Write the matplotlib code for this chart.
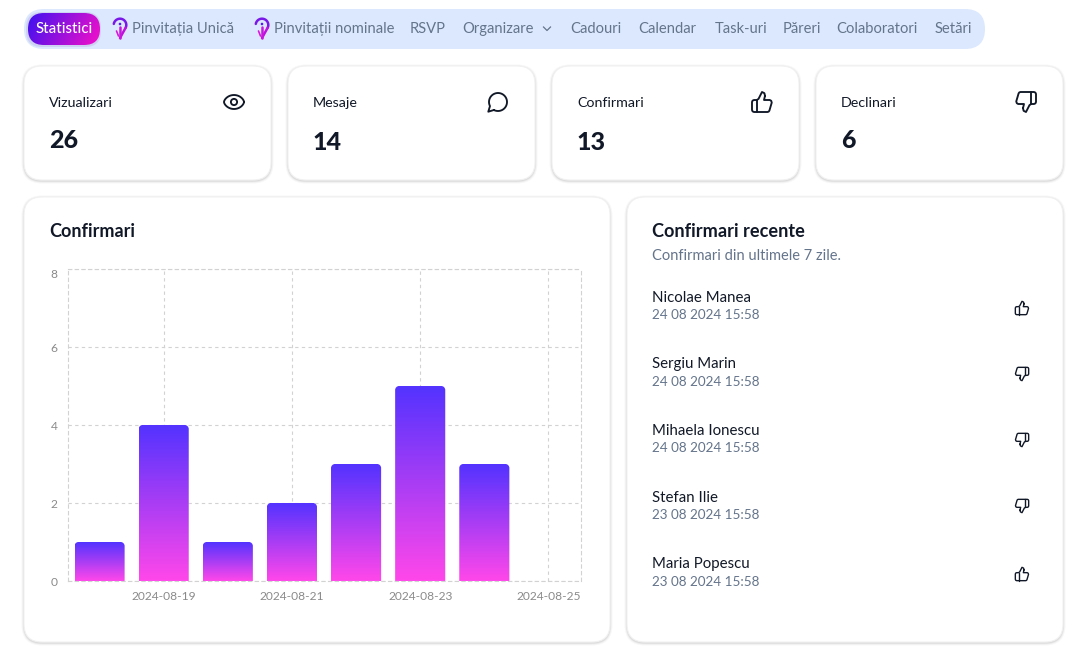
"""Dashboard with stat cards, a gradient bar chart and a list of recent confirmations"""

import numpy as np
import matplotlib
matplotlib.use("Agg")
import matplotlib.pyplot as plt
from matplotlib.colors import LinearSegmentedColormap
from matplotlib.patches import FancyBboxPatch, PathPatch, Circle
from matplotlib.path import Path

plt.rcParams["font.family"] = ["Lato", "DejaVu Sans"]

WIDTH, HEIGHT = 1080, 667

# chart data
dates = ["2024-08-18", "2024-08-19", "2024-08-20", "2024-08-21",
         "2024-08-22", "2024-08-23", "2024-08-24", "2024-08-25"]
confirmations = [1, 4, 1, 2, 3, 5, 3, 0]
y_ticks = [0, 2, 4, 6, 8]

# stat cards
card_titles = ["Vizualizari", "Mesaje", "Confirmari", "Declinari"]
card_values = ["26", "14", "13", "6"]

# navigation
nav_labels = ["Pinvitația Unică", "Pinvitații nominale", "RSVP", "Organizare",
              "Cadouri", "Calendar", "Task-uri", "Păreri", "Colaboratori", "Setări"]
nav_x = [132, 274, 410, 462, 570.5, 638.5, 715, 783, 836.5, 935]

# recent list
names = ["Nicolae Manea", "Sergiu Marin", "Mihaela Ionescu", "Stefan Ilie", "Maria Popescu"]
times = ["24 08 2024 15:58", "24 08 2024 15:58", "24 08 2024 15:58",
         "23 08 2024 15:58", "23 08 2024 15:58"]
answers = ["up", "down", "down", "down", "up"]

DARK = "#111827"
GRAY = "#64748b"


def px(size):
    # css pixels to points
    return size * 0.72


fig = plt.figure(figsize=(WIDTH / 100, HEIGHT / 100), dpi=100, facecolor="white")
bg = fig.add_axes([0, 0, 1, 1])
bg.set_xlim(0, WIDTH)
bg.set_ylim(HEIGHT, 0)
bg.axis("off")


def rounded(x0, y0, x1, y1, r, **kw):
    patch = FancyBboxPatch((x0 + r, y0 + r), x1 - x0 - 2 * r, y1 - y0 - 2 * r,
                           boxstyle=f"round,pad={r},rounding_size={r}", **kw)
    bg.add_patch(patch)
    return patch


def card(x0, y0, x1, y1, r=18):
    # soft shadow built from a few see-through layers, then the white card
    for grow, alpha in [(2.5, 0.10), (1.5, 0.16), (0.7, 0.28)]:
        rounded(x0 - grow, y0 + 1 - grow, x1 + grow, y1 + 1 + grow, r + grow,
                fc="#b8b8b8", ec="none", alpha=alpha)
    rounded(x0, y0, x1, y1, r, fc="white", ec="#f1f1f1", lw=0.8)


def icon(lines, cx, cy, size=24, lw=1.35, color=DARK, flip=False):
    # lines are in a 24 unit icon box
    scale = size / 24
    for line in lines:
        pts = np.array(line, dtype=float)
        if flip:
            pts = 24 - pts
        pts = (pts - 12) * scale + [cx, cy]
        bg.plot(pts[:, 0], pts[:, 1], color=color, lw=lw, solid_capstyle="round",
                solid_joinstyle="round")


thumb = [
    [(7, 10), (7, 22)],
    [(15, 5.9), (14, 10), (19.8, 10), (21.2, 10.8), (21.75, 12.6), (19.4, 20.6),
     (18.7, 21.6), (17.5, 22), (4, 22), (2.6, 21.4), (2, 20), (2, 12), (2.6, 10.6),
     (4, 10), (6.8, 10), (8.5, 8.9), (12, 2), (14.4, 3.2), (15, 5.9)],
]
t = np.linspace(0, 2 * np.pi, 50)
eye = [list(zip(12 + 10 * np.cos(t), 12 - 7 * np.sin(t) * np.abs(np.sin(t)) ** 0.25))]
bubble_t = np.radians(np.linspace(117, -207, 60))
bubble = [list(zip(12 + 9 * np.cos(bubble_t), 12 + 9 * np.sin(bubble_t)))
          + [(2.3, 21.7), (7.9, 20)]]

# nav bar
rounded(24, 9, 985, 49, 20, fc="#dbe8fd", ec="none")
rounded(26, 12, 101, 47, 16, fc="#c9c9ee", ec="none", alpha=0.7)
pill = rounded(28, 13, 100, 45, 16, fc="none", ec="none")
pill_cmap = LinearSegmentedColormap.from_list("pill", ["#3d10f0", "#f510c8"])
xx, yy = np.meshgrid(np.linspace(0, 1, 80), np.linspace(0, 1, 40))
pill_img = bg.imshow(0.8 * xx + 0.2 * yy, cmap=pill_cmap, extent=(28, 100, 45, 13), aspect="auto", zorder=2)
pill_img.set_clip_path(pill)
bg.set_xlim(0, WIDTH)
bg.set_ylim(HEIGHT, 0)
bg.text(64, 33, "Statistici", color="white", fontsize=px(15), fontweight="medium",
        ha="center", va="baseline", zorder=3)
for label, x in zip(nav_labels, nav_x):
    bg.text(x, 33, label, color=GRAY, fontsize=px(14.7), ha="left", va="baseline")
bg.plot([543.5, 547, 550.5], [27, 30.5, 27], color=GRAY, lw=0.9)

# little pin logos next to the invitation links
for x in [120, 262]:
    arc = np.radians(np.linspace(170, -25, 30))
    bg.plot(x + 6.3 * np.cos(arc), 25 - 6.3 * np.sin(arc), color="#7a18e8", lw=1.8,
            solid_capstyle="round")
    bg.plot([x + 5.7, x + 3, x], [27.7, 32.5, 38], color="#c010dc", lw=1.8, solid_capstyle="round")
    bg.plot([x, x], [27, 37.5], color="#c818dc", lw=1.8, solid_capstyle="round")
    bg.plot([x - 3.5, x - 1.5], [31, 36], color="#d818d8", lw=1.2, solid_capstyle="round")
    bg.add_patch(Circle((x, 24), 1.3, fc="#5a18f0", ec="none"))

# stat cards
card_x = [24, 288, 552, 816]
value_y = [148, 150, 150, 148]
for i, x in enumerate(card_x):
    card(x, 66, x + 247, 180)
    bg.text(x + 25, 107, card_titles[i], color=DARK, fontsize=px(14.2), va="baseline")
    bg.text(x + 25, value_y[i], card_values[i], color=DARK, fontsize=px(25), fontweight="black", va="baseline")

icon(eye, 234, 102)
bg.add_patch(Circle((234, 102), 3.1, fc="none", ec=DARK, lw=1.35))
icon(bubble, 498, 102)
icon(thumb, 762, 102)
icon(thumb, 1026, 102, flip=True)

# lower panels
card(24, 197, 610, 642)
card(627, 197, 1063, 642)
bg.text(49, 237, "Confirmari", color=DARK, fontsize=px(18), fontweight="bold", va="baseline")
bg.text(652, 237, "Confirmari recente", color=DARK, fontsize=px(18.2), fontweight="bold", va="baseline")
bg.text(652, 260, "Confirmari din ultimele 7 zile.", color=GRAY, fontsize=px(14.6), va="baseline")

name_y = [302, 368, 435, 502, 568]
time_y = [319, 386, 452, 519, 586]
icon_y = [308, 374, 440, 506, 574]
for i in range(len(names)):
    bg.text(652, name_y[i], names[i], color=DARK, fontsize=px(15), va="baseline")
    bg.text(652, time_y[i], times[i], color=GRAY, fontsize=px(13.5), va="baseline")
    icon(thumb, 1022, icon_y[i], size=16, lw=1.0, flip=answers[i] == "down")

# bar chart, same pixel box as the reference plot area
ax = fig.add_axes([67.5 / WIDTH, 1 - 581 / HEIGHT, 513 / WIDTH, 312 / HEIGHT])
ax.patch.set_alpha(0)
ax.set_axisbelow(True)

bar_width = 50 / 64
bar_cmap = LinearSegmentedColormap.from_list("bars", ["#5433ff", "#ff47ea"])
rx, ry = 4 / 64, 4 / 39
k = 0.55
for i, value in enumerate(confirmations):
    if value == 0:
        continue
    left, right = i - bar_width / 2, i + bar_width / 2
    verts = [(left, 0), (left, value - ry), (left, value - ry * (1 - k)), (left + rx * (1 - k), value),
             (left + rx, value), (right - rx, value), (right - rx * (1 - k), value),
             (right, value - ry * (1 - k)), (right, value - ry), (right, 0), (left, 0)]
    codes = [Path.MOVETO, Path.LINETO, Path.CURVE4, Path.CURVE4, Path.CURVE4, Path.LINETO,
             Path.CURVE4, Path.CURVE4, Path.CURVE4, Path.LINETO, Path.CLOSEPOLY]
    shape = PathPatch(Path(verts, codes), fc="none", ec="none")
    ax.add_patch(shape)
    img = ax.imshow(np.linspace(0, 1, 100).reshape(-1, 1), cmap=bar_cmap, aspect="auto",
                    extent=(left, right, 0, value), zorder=2, origin="upper")
    img.set_clip_path(shape)

ax.set_xlim(-0.5, 7.5)
ax.set_ylim(0, 8)
ax.set_yticks(y_ticks)
ax.set_xticks(range(1, len(dates), 2))
ax.set_xticklabels(dates[1::2])
ax.tick_params(length=0, labelsize=px(12), labelcolor="#8a8a8a", pad=7)
ax.grid(True, color="#d2d2d2", linestyle=(0, (3, 3)), linewidth=0.8)
for spine in ax.spines.values():
    spine.set_color("#d2d2d2")
    spine.set_linestyle((0, (3, 3)))
    spine.set_linewidth(0.8)
# top label sits just under the edge of the plot
ax.get_yticklabels()[-1].set_verticalalignment("top")

fig.savefig("out.png", dpi=100)
